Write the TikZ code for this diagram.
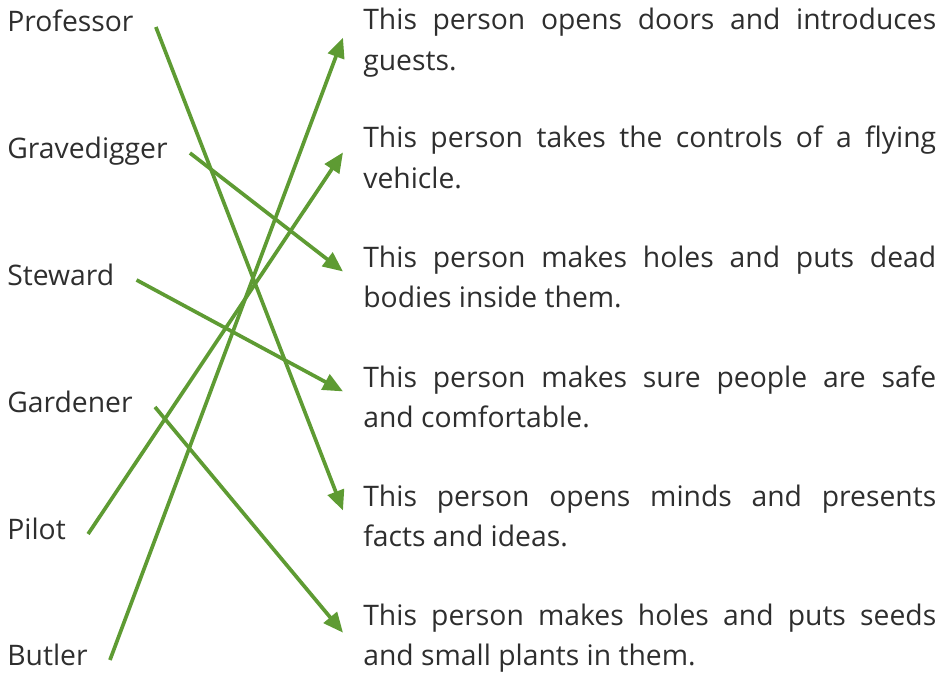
\documentclass[tikz,border=0pt]{standalone}
\usepackage{fontspec}
\setmainfont{Open Sans}
\usetikzlibrary{positioning,arrows.meta,calc}
\definecolor{linkgreen}{HTML}{5E9B33}
\definecolor{textgray}{HTML}{2E2E2E}

\begin{document}
\begin{tikzpicture}[x=0.02cm,y=-0.02cm,
  job/.style={anchor=base west, inner xsep=0.44cm, inner ysep=0pt, text=textgray, font=\fontsize{16.1}{22.8}\selectfont},
  duty/.style={anchor=base west, inner xsep=0.4cm, inner ysep=0pt, text width=11.46cm, align=justify, text=textgray, font=\fontsize{16.1}{22.8}\selectfont},
  link/.style={draw=linkgreen, line width=2.1pt, -{Triangle[length=0.4cm,width=0.34cm]}}]
\useasboundingbox (0,0) rectangle (943,679);
% names on the left
\node[job] (prof) at (-15,32) {Professor};
\node[job] (grave) at (-15,158) {Gravedigger};
\node[job] (stew) at (-15,285) {Steward};
\node[job] (gard) at (-15,412) {Gardener};
\node[job] (pilot) at (-15,539) {Pilot};
\node[job] (butler) at (-15,665) {Butler};
% descriptions on the right
\node[duty] (d1) at (343,30) {This person opens doors and introduces\linebreak guests.};
\node[duty] (d2) at (343,148) {This person takes the controls of a flying\linebreak vehicle.};
\node[duty] (d3) at (343,267) {This person makes holes and puts dead\linebreak bodies inside them.};
\node[duty] (d4) at (343,387) {This person makes sure people are safe\linebreak and comfortable.};
\node[duty] (d5) at (343,506) {This person opens minds and presents\linebreak facts and ideas.};
\node[duty] (d6) at (343,625) {This person makes holes and puts seeds\linebreak and small plants in them.};
% matches
\draw[link] ([yshift=0.1cm]prof.base east) -- ([yshift=0.1cm]d5.west);
\draw[link] ([yshift=0.1cm]grave.base east) -- ([yshift=0.1cm]d3.west);
\draw[link] ([yshift=0.1cm]stew.base east) -- ([yshift=0.1cm]d4.west);
\draw[link] ([yshift=0.1cm]gard.base east) -- ([yshift=0.1cm]d6.west);
\draw[link] ([yshift=0.1cm]pilot.base east) -- ([yshift=0.1cm]d2.west);
\draw[link] ([yshift=0.1cm]butler.base east) -- ([yshift=0.1cm]d1.west);
\end{tikzpicture}
\end{document}
